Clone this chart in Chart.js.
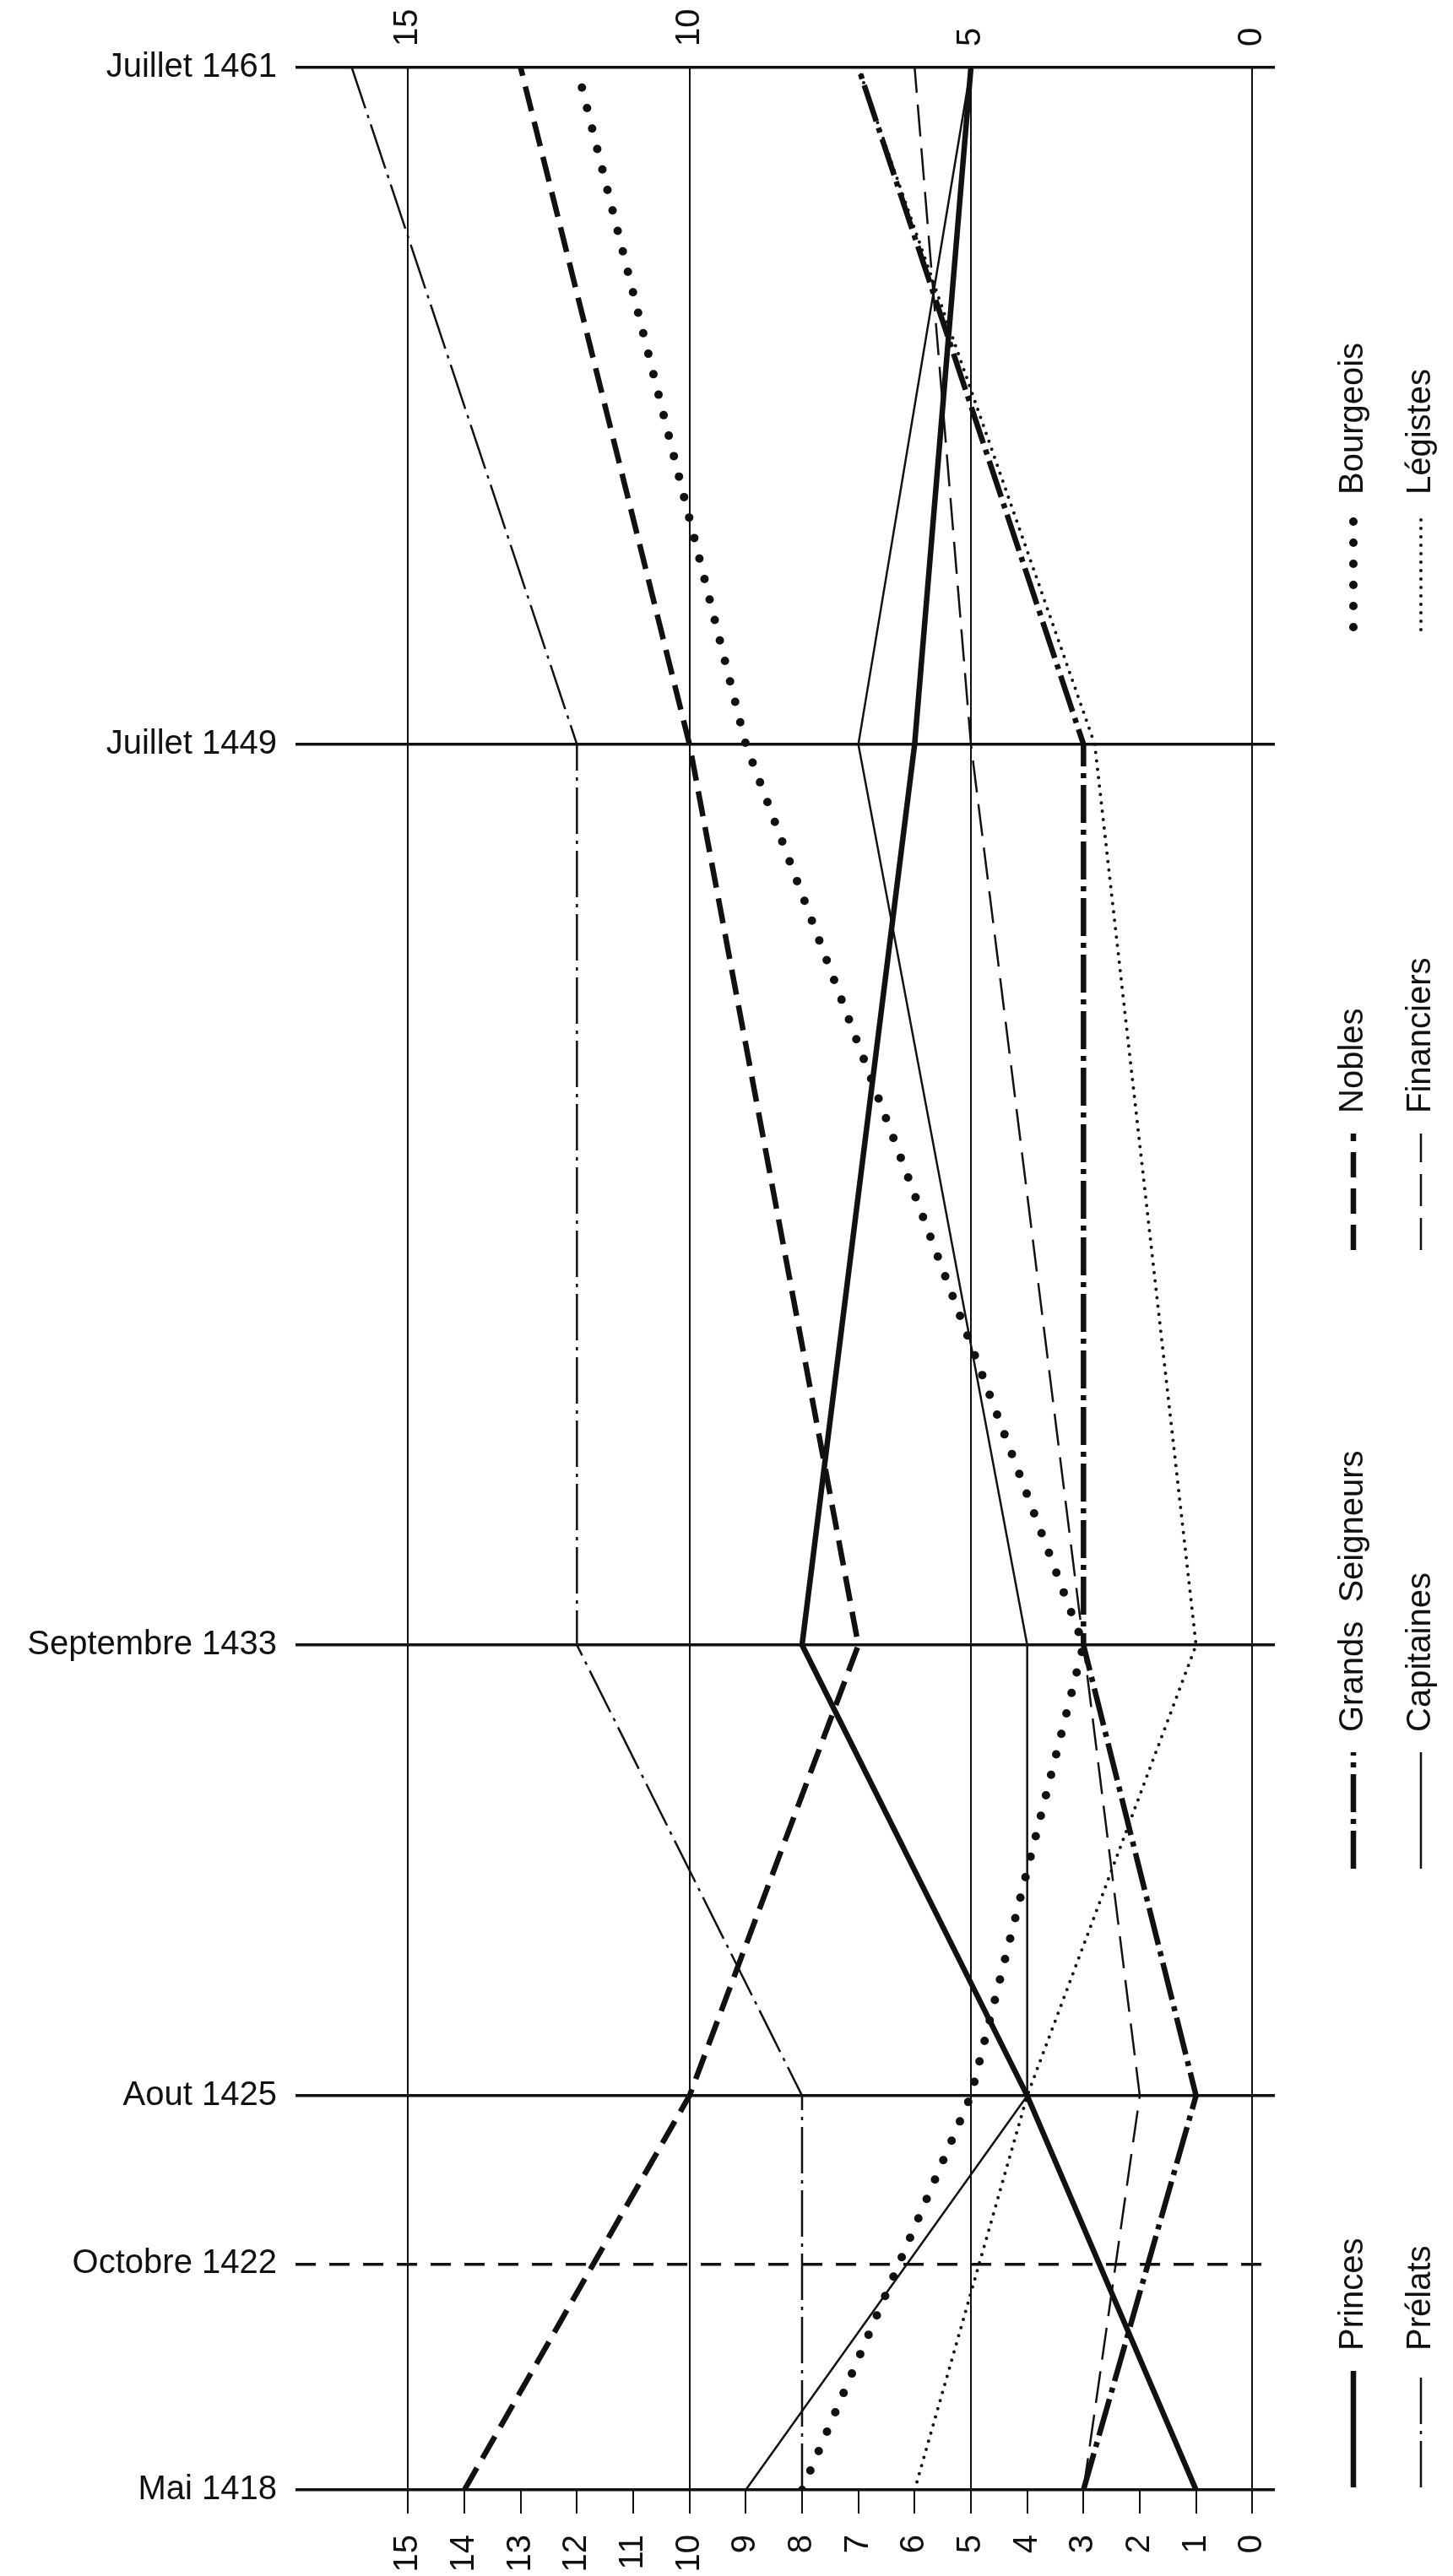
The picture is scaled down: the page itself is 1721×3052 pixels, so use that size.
<!DOCTYPE html>
<html><head><meta charset="utf-8">
<script src="https://cdn.jsdelivr.net/npm/chart.js@4.4.1/dist/chart.umd.min.js"></script>
<style>html,body{margin:0;padding:0;background:#fff}#wrap{width:1721px;height:3052px}</style>
</head><body><div id="wrap"><canvas id="c" width="1721" height="3052"></canvas></div>
<script>
// ---- data ----
const dateLabels = ['Mai 1418', 'Octobre 1422', 'Aout 1425', 'Septembre 1433', 'Juillet 1449', 'Juillet 1461'];
const dateValues = [1418.375, 1422.4, 1425.4, 1433.43, 1449.48, 1461.54];
const referenceDate = 'Octobre 1422';
const seriesDates = ['Mai 1418', 'Aout 1425', 'Septembre 1433', 'Juillet 1449', 'Juillet 1461'];
const princes = [1, 4, 8, 6, 5];
const prelats = [8, 8, 12, 12, 16];
const grandsSeigneurs = [3, 1, 3, 3, 7];
const capitaines = [9, 4, 4, 7, 5];
const nobles = [14, 10, 7, 10, 13];
const financiers = [3, 2, 3, 5, 6];
const bourgeois = [8, 5, 3, 9, 12];
const legistes = [6, 4, 1, 2.8, 7];
const valueTicks = [0, 1, 2, 3, 4, 5, 6, 7, 8, 9, 10, 11, 12, 13, 14, 15];
const topTicks = [0, 5, 10, 15];
const legendRows = [['Bourgeois', 'Légistes'], ['Nobles', 'Financiers'], ['Grands  Seigneurs', 'Capitaines'], ['Princes', 'Prélats']];

// ---- style ----
const FONT = "'Liberation Sans', Arial, sans-serif";
const INK = '#111111';
const refValue = dateValues[dateLabels.indexOf(referenceDate)];

function pts(vals) {
  return seriesDates.map((d, i) => ({ x: vals[i], y: dateValues[dateLabels.indexOf(d)] }));
}
function ds(label, vals, width, dash, cap) {
  return { label, data: pts(vals), borderColor: INK, borderWidth: width, borderDash: dash,
    borderCapStyle: cap || 'butt', borderJoinStyle: 'round', pointRadius: 0, fill: false, tension: 0 };
}
const datasets = [
  ds('Princes', princes, 6.5, []),
  ds('Prélats', prelats, 2.5, [55, 8, 4, 8]),
  ds('Grands  Seigneurs', grandsSeigneurs, 6.5, [45, 8, 6, 8]),
  ds('Capitaines', capitaines, 2.5, []),
  ds('Nobles', nobles, 6.5, [30, 13]),
  ds('Financiers', financiers, 2.5, [38, 14]),
  ds('Bourgeois', bourgeois, 10, [0, 25], 'round'),
  ds('Légistes', legistes, 4, [0, 10], 'round'),
];

function dateName(v) {
  let best = 0;
  dateValues.forEach((d, i) => { if (Math.abs(d - v) < Math.abs(dateValues[best] - v)) best = i; });
  return dateLabels[best];
}

const legendPlugin = {
  id: 'rotLegend',
  afterDraw(chart) {
    const ctx = chart.ctx;
    const colX = [1603, 1683];
    const rowBottom = [748, 1481, 2214, 2947];
    const markerLen = 138, gap = 24;
    legendRows.forEach((row, r) => {
      row.forEach((name, c) => {
        const d = chart.data.datasets.find(s => s.label === name);
        ctx.save();
        ctx.translate(colX[c], rowBottom[r]);
        ctx.rotate(-Math.PI / 2);
        ctx.strokeStyle = INK;
        ctx.lineWidth = d.borderWidth;
        ctx.lineCap = d.borderCapStyle;
        ctx.setLineDash(d.borderDash);
        ctx.beginPath();
        ctx.moveTo(d.borderCapStyle === 'round' ? d.borderWidth / 2 : 0, 0);
        ctx.lineTo(markerLen, 0);
        ctx.stroke();
        ctx.setLineDash([]);
        ctx.fillStyle = INK;
        ctx.font = '40px ' + FONT;
        ctx.textAlign = 'left';
        ctx.textBaseline = 'middle';
        ctx.fillText(name, markerLen + gap, 0);
        ctx.restore();
      });
    });
  }
};

new Chart(document.getElementById('c'), {
  type: 'line',
  data: { datasets },
  options: {
    responsive: false,
    animation: false,
    devicePixelRatio: 1,
    layout: { padding: { left: 0, top: 0, bottom: 0, right: 211 } },
    plugins: { legend: { display: false }, tooltip: { enabled: false } },
    scales: {
      x: {
        type: 'linear', position: 'bottom', reverse: true, min: -0.4, max: 17,
        afterBuildTicks: s => { s.ticks = valueTicks.map(v => ({ value: v })); },
        afterFit: s => { s.height = 102; },
        grid: {
          color: c => (c.tick && c.tick.value % 5 === 0) ? INK : 'rgba(0,0,0,0)',
          lineWidth: 2, tickColor: INK, tickLength: 28, tickWidth: 2, drawTicks: true
        },
        border: { display: false },
        ticks: { autoSkip: false, minRotation: 90, maxRotation: 90, padding: 25, color: INK,
          font: { size: 40, family: FONT }, callback: v => String(v) }
      },
      x2: {
        type: 'linear', position: 'top', reverse: true, min: -0.4, max: 17,
        afterBuildTicks: s => { s.ticks = topTicks.map(v => ({ value: v })); },
        afterFit: s => { s.height = 80; },
        grid: { drawOnChartArea: false, drawTicks: false },
        border: { display: false },
        ticks: { autoSkip: false, minRotation: 90, maxRotation: 90, padding: 25, labelOffset: 48, color: INK,
          font: { size: 40, family: FONT }, callback: v => String(v) }
      },
      y: {
        type: 'linear', min: dateValues[0], max: dateValues[dateValues.length - 1],
        afterBuildTicks: s => { s.ticks = dateValues.map(v => ({ value: v })); },
        afterFit: s => { s.width = 350; },
        grid: { color: INK, lineWidth: 3.5, drawTicks: false },
        border: { display: false, dash: c => (c.tick && Math.abs(c.tick.value - refValue) < 1e-6) ? [24, 16] : [] },
        ticks: { autoSkip: false, padding: 22, color: INK, font: { size: 40, family: FONT },
          callback: v => dateName(v) }
      }
    }
  },
  plugins: [legendPlugin]
});
</script>
</body></html>
